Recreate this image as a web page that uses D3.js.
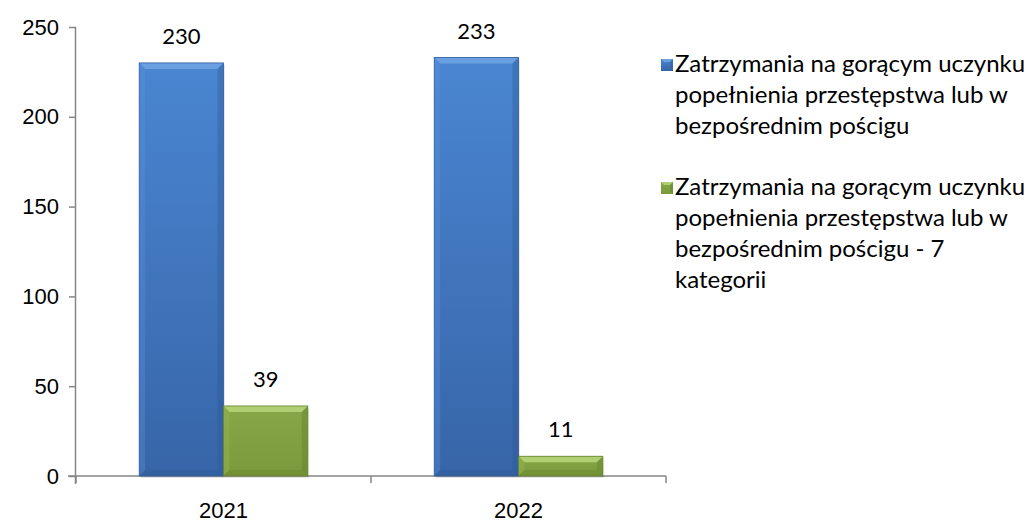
<!DOCTYPE html>
<html>
<head>
<meta charset="utf-8">
<script src="https://cdn.jsdelivr.net/npm/d3@7"></script>
<style>
  html, body { margin: 0; padding: 0; background: #fff; }
  svg { display: block; font-family: Lato, "Open Sans", sans-serif; }
</style>
</head>
<body>
<svg id="chart" width="1035" height="522"></svg>
<script>
// Years on the category axis
const categories = ["2021", "2022"];
// Series names shown in the legend
const seriesNames = [
  "Zatrzymania na gorącym uczynku popełnienia przestępstwa lub w bezpośrednim pościgu",
  "Zatrzymania na gorącym uczynku popełnienia przestępstwa lub w bezpośrednim pościgu - 7 kategorii"
];
// Legend text broken into lines
const legendLines = [
  ["Zatrzymania na gorącym uczynku", "popełnienia przestępstwa lub w", "bezpośrednim pościgu"],
  ["Zatrzymania na gorącym uczynku", "popełnienia przestępstwa lub w", "bezpośrednim pościgu - 7", "kategorii"]
];
// Values per series, one per year
const seriesAll = [230, 233];
const seriesSeven = [39, 11];
// Y axis tick values
const yTicks = [0, 50, 100, 150, 200, 250];

const colors = [
  { top: "#4a86d2", bottom: "#3765a8", light: "#6a9fe2", side: "#5d93da", dark: "#2c5591", edge: "#2f5c9c" },
  { top: "#86a647", bottom: "#7b9a3b", light: "#b0cf72", side: "#9bbb5a", dark: "#5f7a28", edge: "#66822e" }
];

const svg = d3.select("#chart");
const defs = svg.append("defs");
colors.forEach((c, i) => {
  const g = defs.append("linearGradient").attr("id", "grad" + i)
    .attr("x1", 0).attr("y1", 0).attr("x2", 0).attr("y2", 1);
  g.append("stop").attr("offset", "0%").attr("stop-color", c.top);
  g.append("stop").attr("offset", "100%").attr("stop-color", c.bottom);
});

const margin = { left: 76, right: 369, top: 27, bottom: 46 };
const W = 1035, H = 522;

const x = d3.scaleBand().domain(categories).range([margin.left, W - margin.right]).paddingInner(0).paddingOuter(0);
const xs = d3.scaleBand().domain([0, 1]).range([0, x.bandwidth()]).paddingInner(0).paddingOuter(0.75);
const y = d3.scaleLinear().domain([0, 250]).range([H - margin.bottom, margin.top]);

const data = categories.map((c, i) => ({ cat: c, values: [seriesAll[i], seriesSeven[i]] }));

// Axes
const axisColor = "#868686";
const fontNum = "22px";
const yAxis = svg.append("g").attr("transform", `translate(${margin.left},0)`)
  .call(d3.axisLeft(y).tickValues(yTicks).tickSize(7).tickPadding(10));
const xAxis = svg.append("g").attr("transform", `translate(0,${y(0)})`)
  .call(d3.axisBottom(x).tickSize(0).tickPadding(26));
// category boundary tick marks
const bounds = [margin.left, margin.left + x.bandwidth(), W - margin.right];
xAxis.selectAll("line.bound").data(bounds).enter().append("line")
  .attr("class", "bound").attr("x1", d => d).attr("x2", d => d).attr("y1", 0).attr("y2", 7)
  .attr("stroke", axisColor).attr("stroke-width", 1.5);
[yAxis, xAxis].forEach(g => {
  g.select(".domain").attr("stroke", axisColor).attr("stroke-width", 1.5);
  g.selectAll(".tick line").attr("stroke", axisColor).attr("stroke-width", 1.5);
  g.selectAll("text").attr("fill", "#000").style("font-size", fontNum);
});
yAxis.select(".domain").attr("d", `M-0.5,${y(250)}V${y(0) + 8}`);
xAxis.select(".domain").attr("d", `M${margin.left - 8},0H${W - margin.right}`);

// Bars with bevelled edges
const bevel = 6;
function drawBar(g, x0, w, v, col, idx) {
  const x1 = x0 + w, yt = y(v), yb = y(0);
  g.append("rect").attr("x", x0 + 1.5).attr("y", yt + 2).attr("width", w).attr("height", yb - yt)
    .attr("fill", "rgba(0,0,0,0.1)");
  g.append("rect").attr("x", x0).attr("y", yt).attr("width", w).attr("height", yb - yt).attr("fill", `url(#grad${idx})`);
  const b = Math.min(bevel, (yb - yt) / 2.5);
  const pts = (a) => a.map(p => p.join(",")).join(" ");
  // top
  g.append("polygon").attr("points", pts([[x0, yt], [x1, yt], [x1 - b, yt + b], [x0 + b, yt + b]])).attr("fill", col.light);
  // left
  g.append("polygon").attr("points", pts([[x0, yt], [x0 + b, yt + b], [x0 + b, yb - b], [x0, yb]])).attr("fill", col.side).attr("opacity", 0.35);
  // right
  g.append("polygon").attr("points", pts([[x1, yt], [x1, yb], [x1 - b, yb - b], [x1 - b, yt + b]])).attr("fill", col.dark).attr("opacity", 0.35);
  // bottom
  g.append("polygon").attr("points", pts([[x0, yb], [x1, yb], [x1 - b, yb - b], [x0 + b, yb - b]])).attr("fill", col.dark).attr("opacity", 0.3);
  g.append("rect").attr("x", x0).attr("y", yt).attr("width", w).attr("height", yb - yt)
    .attr("fill", "none").attr("stroke", col.edge).attr("stroke-width", 0.8);
}

const barsG = svg.append("g");
data.forEach(d => {
  d.values.forEach((v, si) => {
    drawBar(barsG, x(d.cat) + xs(si), xs.bandwidth(), v, colors[si], si);
  });
});

// Value labels
const labG = svg.append("g");
data.forEach(d => {
  d.values.forEach((v, si) => {
    labG.append("text").attr("x", x(d.cat) + xs(si) + xs.bandwidth() / 2).attr("y", y(v) - 19)
      .attr("text-anchor", "middle").style("font-size", fontNum).text(v);
  });
});

// Legend
const legG = svg.append("g").attr("transform", "translate(661,0)");
const legTop = [72, 195];
legendLines.forEach((lines, si) => {
  const g = legG.append("g");
  g.append("title").text(seriesNames[si]);
  const t0 = legTop[si] - 13;
  g.append("rect").attr("x", 0).attr("y", t0).attr("width", 12).attr("height", 12).attr("fill", `url(#grad${si})`);
  g.append("polygon").attr("points", `0,${t0} 12,${t0} 9,${t0 + 3} 3,${t0 + 3}`).attr("fill", colors[si].light);
  g.append("polygon").attr("points", `12,${t0} 12,${t0 + 12} 9,${t0 + 9} 9,${t0 + 3}`).attr("fill", colors[si].dark).attr("opacity", 0.4);
  lines.forEach((t, li) => {
    g.append("text").attr("x", 14).attr("y", legTop[si] + li * 31).style("font-size", "24px").text(t);
  });
});
</script>
</body>
</html>
